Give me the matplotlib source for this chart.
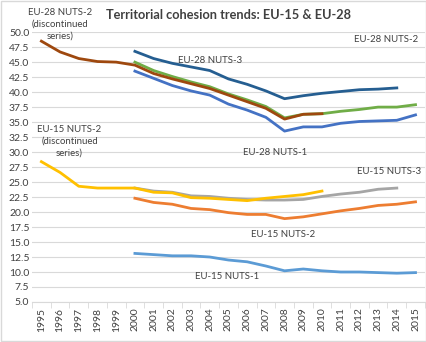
import matplotlib
matplotlib.use("Agg")
import matplotlib.pyplot as plt
import numpy as np

plt.rcParams['font.family'] = ['Lato', 'DejaVu Sans']

years = list(range(1995, 2016))
nan = np.nan

# values per year 1995..2015 (nan = no data)
eu28_nuts2_disc = [48.5, 46.7, 45.6, 45.1, 45.0, 44.5, 43.1, 42.2, 41.4, 40.6, 39.5, 38.4,
                   37.3, 35.5, 36.3, 36.4] + [nan] * 5
eu28_nuts2 = [nan] * 5 + [45.0, 43.6, 42.6, 41.7, 40.9, 39.7, 38.7, 37.6, 35.7, 36.3, 36.4,
                          36.8, 37.1, 37.5, 37.5, 37.9]
eu28_nuts3 = [nan] * 5 + [46.8, 45.6, 44.8, 44.2, 43.6, 42.2, 41.3, 40.2, 38.9, 39.4, 39.8,
                          40.1, 40.4, 40.5, 40.7, nan]
eu28_nuts1 = [nan] * 5 + [43.5, 42.3, 41.1, 40.2, 39.5, 38.0, 37.0, 35.8, 33.5, 34.2, 34.2,
                          34.8, 35.1, 35.2, 35.3, 36.2]
eu15_nuts2_disc = [28.4, 26.6, 24.3, 24.0, 24.0, 24.0, 23.3, 23.2, 22.4, 22.3, 22.1, 21.9,
                   22.3, 22.6, 22.9, 23.5] + [nan] * 5
eu15_nuts3 = [nan] * 5 + [24.0, 23.5, 23.3, 22.7, 22.6, 22.3, 22.1, 22.0, 22.0, 22.1, 22.6,
                          23.0, 23.3, 23.8, 24.0, nan]
eu15_nuts2 = [nan] * 5 + [22.3, 21.6, 21.3, 20.6, 20.4, 19.9, 19.6, 19.6, 18.9, 19.2, 19.7,
                          20.2, 20.6, 21.1, 21.3, 21.7]
eu15_nuts1 = [nan] * 5 + [13.1, 12.9, 12.7, 12.7, 12.5, 12.0, 11.7, 11.0, 10.2, 10.5, 10.2,
                          10.0, 10.0, 9.9, 9.8, 9.9]

fig = plt.figure(figsize=(4.27, 3.42), dpi=100)
ax = fig.add_axes([0.075, 0.117, 0.92, 0.789])

x = np.arange(len(years))
lw = 2.0
ax.plot(x, eu28_nuts3, color="#255E91", lw=lw)
ax.plot(x, eu28_nuts1, color="#4472C4", lw=lw)
ax.plot(x, eu28_nuts2, color="#70AD47", lw=lw)
ax.plot(x, eu28_nuts2_disc, color="#9E480E", lw=lw)
ax.plot(x, eu15_nuts3, color="#A5A5A5", lw=lw)
ax.plot(x, eu15_nuts2_disc, color="#FFC000", lw=lw)
ax.plot(x, eu15_nuts2, color="#ED7D31", lw=lw)
ax.plot(x, eu15_nuts1, color="#5B9BD5", lw=lw)

ax.set_xlim(-0.5, len(years) - 0.5)
ax.set_ylim(5, 50)
ax.set_yticks(np.arange(5, 50.1, 2.5))
ax.set_yticklabels([f"{v:.1f}" for v in np.arange(5, 50.1, 2.5)], fontsize=7.5, color="#404040")
ax.set_xticks(x)
ax.set_xticklabels([str(y) for y in years], rotation=90, fontsize=7.5, color="#404040")
ax.set_xticks(np.arange(-0.5, len(years)), minor=True)
ax.tick_params(axis="x", which="major", length=0, pad=4)
ax.tick_params(axis="x", which="minor", length=4, color="#D9D9D9")
ax.tick_params(axis="y", length=0, pad=2)
ax.grid(axis="y", color="#D9D9D9", lw=0.8)
ax.set_axisbelow(True)
for s in ["top", "right", "left"]:
    ax.spines[s].set_visible(False)
ax.spines["bottom"].set_color("#D9D9D9")

fs = 6.9
tc = "#404040"
ax.text(1.0, 51.3, "EU-28 NUTS-2\n(discontinued\nseries)", fontsize=fs, color=tc, ha="center", va="center",
        clip_on=False, linespacing=1.45)
ax.text(18.4, 48.7, "EU-28 NUTS-2", fontsize=fs, color=tc, ha="center", va="center")
ax.text(9.0, 45.2, "EU-28 NUTS-3", fontsize=fs, color=tc, ha="center", va="center")
ax.text(12.5, 30.0, "EU-28 NUTS-1", fontsize=fs, color=tc, ha="center", va="center")
ax.text(18.6, 26.8, "EU-15 NUTS-3", fontsize=fs, color=tc, ha="center", va="center")
ax.text(1.5, 31.8, "EU-15 NUTS-2\n(discontinued\nseries)", fontsize=fs, color=tc, ha="center", va="center",
        linespacing=1.45)
ax.text(12.9, 16.3, "EU-15 NUTS-2", fontsize=fs, color=tc, ha="center", va="center")
ax.text(9.9, 9.2, "EU-15 NUTS-1", fontsize=fs, color=tc, ha="center", va="center")

fig.text(0.535, 0.955, "Territorial cohesion trends: EU-15 & EU-28", fontsize=9.2, fontweight="bold",
         color="#404040", ha="center", va="center")

fig.patches.append(plt.Rectangle((0.003, 0.003), 0.994, 0.994, transform=fig.transFigure,
                                 fill=False, edgecolor="#D9D9D9", lw=1))

fig.savefig("out.png", dpi=100)
